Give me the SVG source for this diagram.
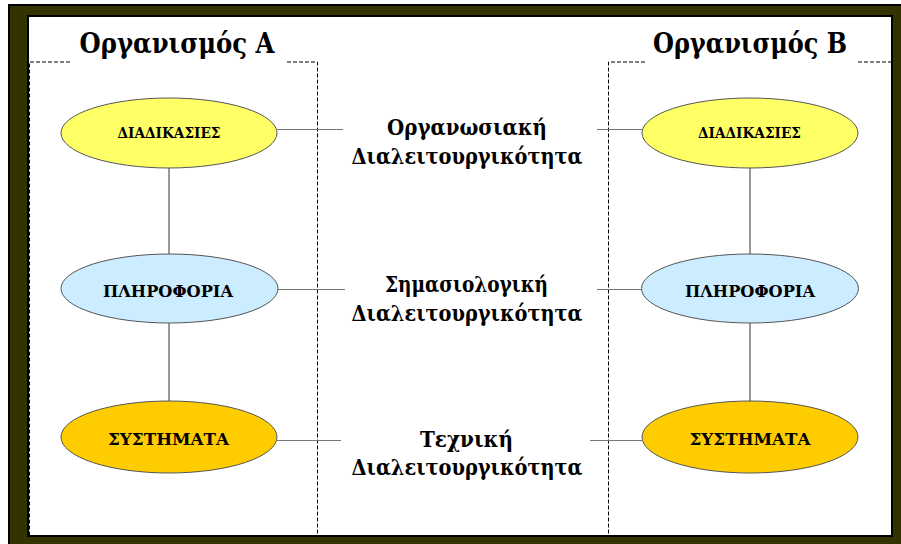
<svg xmlns="http://www.w3.org/2000/svg" width="901" height="544" viewBox="0 0 901 544">
<style>
.frame-out{fill:#333300;stroke:#000;stroke-width:2}
.frame-in{fill:#fff;stroke:#000;stroke-width:2}
.dash{fill:none;stroke:#000;stroke-width:1;stroke-dasharray:4,2}
text{font-family:"DejaVu Serif","Liberation Serif",serif;font-weight:bold;fill:#000;text-anchor:middle}
.title{font-size:28px}
.mid{font-size:22px}
.lbl{font-size:16.5px}
.lbl-s{font-size:15px}
.ell{stroke:#555;stroke-width:1}
.y{fill:#FFFF66}
.b{fill:#CCECFF}
.o{fill:#FFCC00}
.hl{stroke:#777;stroke-width:1;fill:none}
.vl{stroke:#333;stroke-width:1;fill:none}
</style>
<rect x="0" y="0" width="901" height="544" fill="#fff"/>
<rect class="frame-out" x="9" y="5" width="893" height="541"/>
<rect class="frame-in" x="28" y="16" width="864" height="520"/>
<g id="orgA">
<path class="dash" d="M70,62 H29.5 V535.5 H317.5 V62 H285"/>
<text class="title" x="177" y="53" textLength="195" lengthAdjust="spacingAndGlyphs">Οργανισμός Α</text>
</g>
<g id="orgB">
<path class="dash" d="M645,62 H608.5 V535.5 H892 M892,62 H857"/>
<text class="title" x="750" y="53" textLength="194" lengthAdjust="spacingAndGlyphs">Οργανισμός Β</text>
</g>
<g id="connectors">
<line class="vl" x1="169" y1="168" x2="169" y2="254"/>
<line class="vl" x1="169" y1="323" x2="169" y2="401"/>
<line class="vl" x1="750" y1="168" x2="750" y2="254"/>
<line class="vl" x1="750" y1="323" x2="750" y2="401"/>
<line class="hl" x1="277" y1="129.5" x2="343" y2="129.5"/>
<line class="hl" x1="597" y1="129.5" x2="642" y2="129.5"/>
<line class="hl" x1="278" y1="289.5" x2="345" y2="289.5"/>
<line class="hl" x1="597" y1="289.5" x2="642" y2="289.5"/>
<line class="hl" x1="277" y1="440.5" x2="341" y2="440.5"/>
<line class="hl" x1="590" y1="440.5" x2="642" y2="440.5"/>
</g>
<g id="a-diadikasies">
<ellipse class="ell y" cx="169" cy="133" rx="108" ry="35"/>
<text class="lbl-s" x="169" y="138" textLength="103" lengthAdjust="spacingAndGlyphs">ΔΙΑΔΙΚΑΣΙΕΣ</text>
</g>
<g id="a-pliroforia">
<ellipse class="ell b" cx="169.5" cy="288.5" rx="108.5" ry="34.5"/>
<text class="lbl" x="168" y="297" textLength="130" lengthAdjust="spacingAndGlyphs">ΠΛΗΡΟΦΟΡΙΑ</text>
</g>
<g id="a-systimata">
<ellipse class="ell o" cx="169" cy="437" rx="108" ry="36"/>
<text class="lbl" x="168.5" y="445" textLength="121" lengthAdjust="spacingAndGlyphs">ΣΥΣΤΗΜΑΤΑ</text>
</g>
<g id="b-diadikasies">
<ellipse class="ell y" cx="750" cy="133" rx="108" ry="35"/>
<text class="lbl-s" x="749.5" y="138" textLength="103" lengthAdjust="spacingAndGlyphs">ΔΙΑΔΙΚΑΣΙΕΣ</text>
</g>
<g id="b-pliroforia">
<ellipse class="ell b" cx="750" cy="288.5" rx="108.5" ry="34.5"/>
<text class="lbl" x="750" y="297" textLength="130" lengthAdjust="spacingAndGlyphs">ΠΛΗΡΟΦΟΡΙΑ</text>
</g>
<g id="b-systimata">
<ellipse class="ell o" cx="750" cy="437" rx="108" ry="36"/>
<text class="lbl" x="750" y="445" textLength="121" lengthAdjust="spacingAndGlyphs">ΣΥΣΤΗΜΑΤΑ</text>
</g>
<g id="organizational">
<text class="mid" x="467" y="135" textLength="160" lengthAdjust="spacingAndGlyphs">Οργανωσιακή</text>
<text class="mid" x="467" y="164" textLength="231" lengthAdjust="spacingAndGlyphs">Διαλειτουργικότητα</text>
</g>
<g id="semantic">
<text class="mid" x="466.5" y="292" textLength="163" lengthAdjust="spacingAndGlyphs">Σημασιολογική</text>
<text class="mid" x="467" y="321" textLength="231" lengthAdjust="spacingAndGlyphs">Διαλειτουργικότητα</text>
</g>
<g id="technical">
<text class="mid" x="466.5" y="447" textLength="93" lengthAdjust="spacingAndGlyphs">Τεχνική</text>
<text class="mid" x="467" y="475" textLength="231" lengthAdjust="spacingAndGlyphs">Διαλειτουργικότητα</text>
</g>
</svg>
